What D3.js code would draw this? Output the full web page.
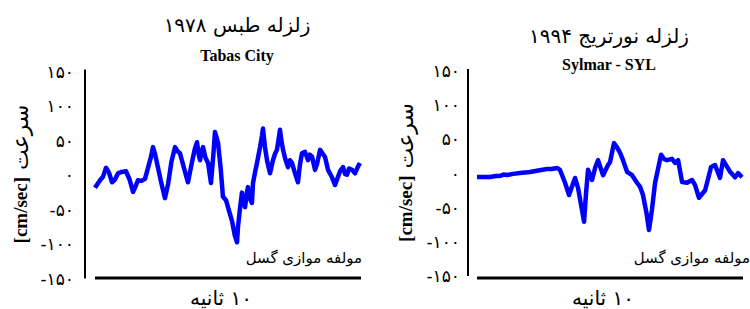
<!DOCTYPE html>
<html>
<head>
<meta charset="utf-8">
<script src="https://cdn.jsdelivr.net/npm/d3@7"></script>
<style>
  body { margin: 0; background: #fff; }
  svg { display: block; }
</style>
</head>
<body>
<div id="chart"></div>
<script>
// tick values and their Persian labels (shared by both panels)
const yTicks = [150, 100, 50, 0, -50, -100, -150];
const yTickLabels = ["۱۵۰", "۱۰۰", "۵۰", "۰", "-۵۰", "-۱۰۰", "-۱۵۰"];

// Tabas 1978 - time [s] / velocity [cm/sec]
const tabasTime = [0, 0.2, 0.38, 0.6, 0.83, 1.05, 1.28, 1.5, 1.73, 2.0, 2.33, 2.6, 2.86, 3.05, 3.23, 3.5, 3.76, 4.0, 4.2, 4.36, 4.5, 4.66, 4.95, 5.26, 5.5, 5.75, 6.02, 6.2, 6.39, 6.7, 6.99, 7.3, 7.5, 7.67, 7.8, 7.9, 8.0, 8.12, 8.3, 8.5, 8.72, 8.9, 9.02, 9.25, 9.45, 9.62, 9.85, 10.1, 10.3, 10.5, 10.68, 10.75, 10.9, 11.05, 11.15, 11.28, 11.4, 11.5, 11.65, 11.8, 11.88, 12.05, 12.18, 12.41, 12.55, 12.63, 12.78, 12.95, 13.16, 13.38, 13.55, 13.68, 13.8, 13.91, 14.0, 14.14, 14.3, 14.51, 14.65, 14.81, 15.04, 15.26, 15.4, 15.56, 15.79, 16.02, 16.15, 16.32, 16.54, 16.7, 16.92, 17.1, 17.29, 17.52, 17.8, 18.05, 18.27, 18.45, 18.65, 18.8, 18.95, 19.1, 19.32, 19.55, 19.75, 19.92];
const tabasVel = [-20, -14, -9, -4, 9, 2, -12, -8, 1, 3, 4, -8, -26, -18, -9, -10, -7, 10, 24, 39, 30, 16, -10, -35, -14, 18, 39, 33, 30, 8, -12, 18, 36, 46, 28, 20, 32, 39, 24, 16, -13, 28, 61, 45, 8, -33, -38, -55, -68, -88, -99, -77, -50, -27, -40, -48, -30, -19, -36, -42, -13, 4, 16, 39, 55, 66, 39, 18, 1, 20, 30, 35, 50, 64, 50, 35, 22, 10, 20, 16, 1, -12, 12, 30, 32, 20, 28, 25, 6, 15, 35, 30, 25, 6, -4, -16, -4, 5, 10, 0, -1, 8, 6, 1, 10, 16];

// Northridge 1994 (Sylmar) - time [s] / velocity [cm/sec]
const sylmarTime = [0, 0.5, 0.98, 1.4, 1.73, 2.0, 2.26, 2.7, 3.23, 3.6, 3.99, 4.6, 5.26, 5.6, 6.02, 6.24, 6.62, 6.92, 7.15, 7.37, 7.6, 7.85, 8.05, 8.2, 8.35, 8.65, 8.9, 9.1, 9.48, 9.85, 10.0, 10.3, 10.55, 10.75, 10.98, 11.28, 11.66, 12.03, 12.26, 12.48, 12.75, 12.93, 13.15, 13.39, 13.84, 14.05, 14.29, 14.66, 14.89, 15.12, 15.42, 15.79, 16.17, 16.39, 16.69, 17.15, 17.6, 17.9, 18.27, 18.5, 19.03, 19.4, 19.63, 19.93];
const sylmarVel = [-6.6, -6.6, -6.6, -5, -5, -3, -3.7, -2, -0.7, 0, 0.7, 3, 5, 5, 6.6, 3.7, -15, -33, -20, -8, -23, -50, -72, -30, 4, -11, 8, 18, -4, 11, 15, 43, 36, 29, 18, 1, -4, -15, -21, -33, -60, -84, -55, -15, 26, 20, 18, 20, 14, 18, -14, -15, -11, -18, -37, -26, 8, 11, -8, 18, 1, -7, -1, -7];

const width = 750, height = 309;
const svg = d3.select("#chart").append("svg")
  .attr("width", width)
  .attr("height", height);

const persianFont = "'DejaVu Sans', 'Liberation Serif', serif";
const latinFont = "'Liberation Serif', 'Times New Roman', serif";

function drawPanel(cfg) {
  const x = d3.scaleLinear().domain([0, 20]).range([cfg.x0, cfg.x1]);
  const y = d3.scaleLinear().domain([-150, 150]).range([cfg.yBottom, cfg.yTop]);
  const g = svg.append("g");

  // titles
  g.append("text")
    .attr("x", cfg.titleX).attr("y", cfg.titleY)
    .attr("direction", "rtl")
    .attr("text-anchor", "middle")
    .attr("font-family", persianFont)
    .attr("font-size", 20)
    .text(cfg.title);
  g.append("text")
    .attr("x", cfg.titleX).attr("y", cfg.subY)
    .attr("text-anchor", "middle")
    .attr("font-family", latinFont)
    .attr("font-weight", "bold")
    .attr("font-size", 16)
    .text(cfg.subtitle);

  // vertical axis line
  g.append("line")
    .attr("x1", cfg.axisX).attr("x2", cfg.axisX)
    .attr("y1", y(150) - 1).attr("y2", y(-150) + 1)
    .attr("stroke", "#000").attr("stroke-width", 2);

  // bottom bar
  g.append("line")
    .attr("x1", cfg.x0).attr("x2", cfg.x1)
    .attr("y1", 278).attr("y2", 278)
    .attr("stroke", "#000").attr("stroke-width", 3);

  // tick labels
  g.selectAll(".ytick")
    .data(yTicks)
    .join("text")
    .attr("class", "ytick")
    .attr("x", cfg.labelX)
    .attr("y", (d) => y(d) + 7)
    .attr("text-anchor", "end")
    .attr("font-family", persianFont)
    .attr("font-size", 17)
    .text((d, i) => yTickLabels[i]);

  // y axis title
  const yt = g.append("text")
    .attr("transform", `translate(${cfg.yTitleX},${(y(150) + y(-150)) / 2}) rotate(-90)`)
    .attr("text-anchor", "middle")
    .attr("dominant-baseline", "central");
  yt.append("tspan")
    .attr("font-family", latinFont)
    .attr("font-weight", "bold")
    .attr("font-size", 19)
    .text("[cm/sec]");
  yt.append("tspan")
    .attr("font-family", persianFont)
    .attr("font-size", 22)
    .text("  سرعت");

  // the trace
  const line = d3.line()
    .x((d) => x(d[0]))
    .y((d) => y(d[1]))
    .curve(d3.curveLinear);
  g.append("path")
    .datum(d3.zip(cfg.time, cfg.vel))
    .attr("d", line)
    .attr("fill", "none")
    .attr("stroke", "#0000ff")
    .attr("stroke-width", 4.5)
    .attr("stroke-linejoin", "round");

  // component note
  g.append("text")
    .attr("x", cfg.noteX).attr("y", 263)
    .attr("text-anchor", "end")
    .attr("font-family", persianFont)
    .attr("font-size", 15)
    .text("مولفه موازی گسل");

  // time label
  g.append("text")
    .attr("x", (cfg.x0 + cfg.x1) / 2 - 7).attr("y", 305)
    .attr("direction", "rtl")
    .attr("text-anchor", "middle")
    .attr("font-family", persianFont)
    .attr("font-size", 20)
    .text("۱۰ ثانیه");
}

drawPanel({
  title: "زلزله طبس ۱۹۷۸", subtitle: "Tabas City",
  titleX: 237, titleY: 32, subY: 61,
  axisX: 85, x0: 95, x1: 361, yTop: 70.5, yBottom: 277.5,
  labelX: 74, yTitleX: 20, noteX: 362,
  time: tabasTime, vel: tabasVel
});

drawPanel({
  title: "زلزله نورتریج ۱۹۹۴", subtitle: "Sylmar - SYL",
  titleX: 609, titleY: 43, subY: 70,
  axisX: 468, x0: 477, x1: 743, yTop: 70, yBottom: 275,
  labelX: 460, yTitleX: 405, noteX: 750,
  time: sylmarTime, vel: sylmarVel
});
</script>
</body>
</html>
